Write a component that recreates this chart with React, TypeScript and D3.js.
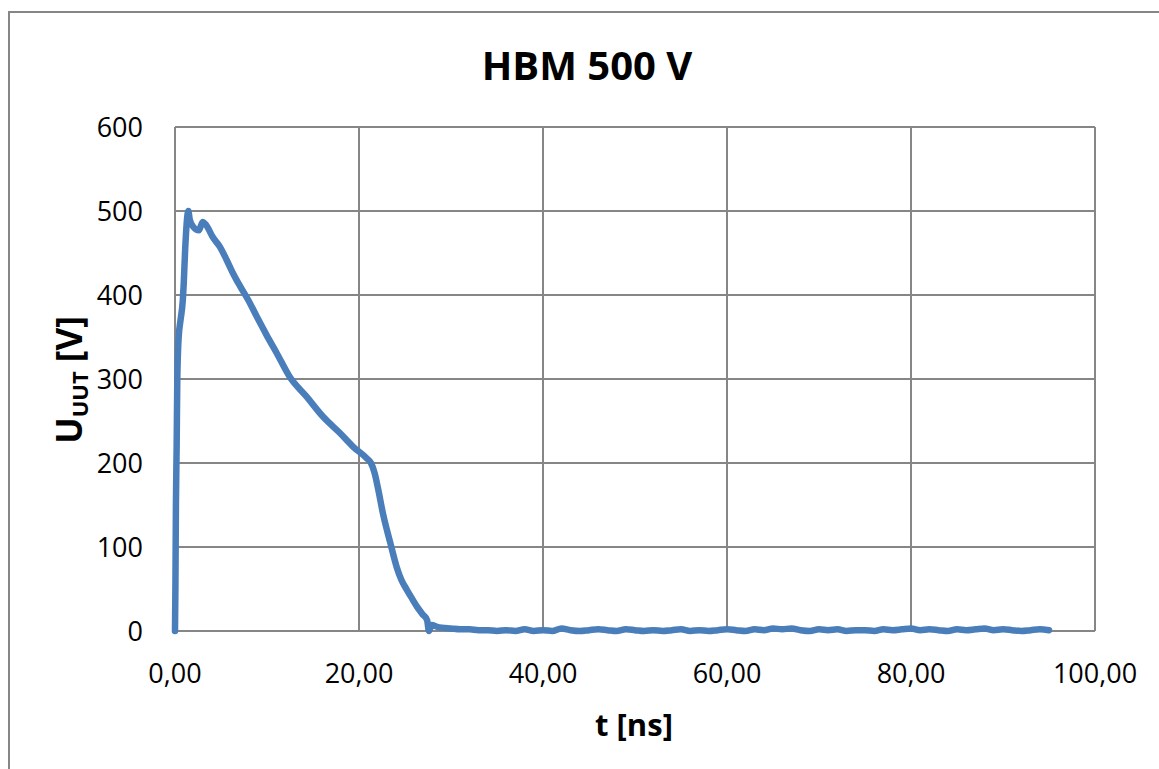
import React from "react";
import * as d3 from "d3";

const title = "HBM 500 V";
const xTicks = [0, 20, 40, 60, 80, 100];
const yTicks = [0, 100, 200, 300, 400, 500, 600];

// time in ns
const tValues = [
  0, 0.05, 0.1, 0.18, 0.25, 0.4, 0.6, 0.85, 0.95, 1.1, 1.45, 1.6, 2.0, 2.6, 3.0, 3.4, 4.1, 4.9, 5.6, 6.3,
  7.1, 7.96, 8.9, 9.97, 11.05, 12.5, 14.3, 16.1, 17.9, 19.4, 20.8, 21.3, 21.7, 22.1, 22.6, 23.4, 24.1, 24.6, 25.2,
  25.8, 26.3, 26.9, 27.4, 27.6, 27.9, 28.5,
  29, 30, 31, 32, 33, 34, 35, 36, 37, 38, 39, 40, 41, 42, 43, 44, 45, 46, 47, 48, 49, 50, 51, 52, 53, 54,
  55, 56, 57, 58, 59, 60, 61, 62, 63, 64, 65, 66, 67, 68, 69, 70, 71, 72, 73, 74, 75, 76, 77, 78, 79, 80,
  81, 82, 83, 84, 85, 86, 87, 88, 89, 90, 91, 92, 93, 94, 95,
];
// voltage in V
const uValues = [
  0, 60, 150, 220, 300, 350, 370, 394, 414, 453, 500, 490, 481, 477, 487, 483, 469, 457, 442, 426,
  410, 394, 374, 352, 331, 302, 279, 255, 236, 219, 206, 200, 188, 168, 140, 105, 76, 61, 49,
  38, 29, 20, 13, 0, 7, 5,
  4, 3, 2, 2, 1, 1, 0, 1, 0, 2, 0, 1, 0, 3, 1, 0, 1, 2, 1, 0, 2, 1, 0, 1, 0, 1,
  2, 0, 1, 0, 1, 2, 1, 0, 2, 1, 3, 2, 3, 1, 0, 2, 1, 2, 0, 1, 1, 0, 2, 1, 2, 3,
  1, 2, 1, 0, 2, 1, 2, 3, 1, 2, 1, 0, 1, 2, 1,
];

const W = 1159;
const H = 769;
const margin = { left: 175, right: 1095, top: 127, bottom: 631 };
const FONT = "'Open Sans', 'Liberation Sans', sans-serif";
const GRID = "#868686";
const LINE = "#4a7ebb";

export default function App() {
  const x = d3.scaleLinear().domain([0, 100]).range([margin.left, margin.right]);
  const y = d3.scaleLinear().domain([0, 600]).range([margin.bottom, margin.top]);
  const pts: [number, number][] = tValues.map((t, i) => [t, uValues[i]]);
  const line = d3
    .line<[number, number]>()
    .x((d) => x(d[0]))
    .y((d) => y(d[1]))
    .curve(d3.curveMonotoneX);
  const fmt = (v: number) => v.toFixed(2).replace(".", ",");

  return (
    <svg
      width={W}
      height={H}
      style={{ position: "absolute", left: 0, top: 0, background: "#fff" }}
      fontFamily={FONT}
    >
      <rect x={9} y={12} width={1170} height={780} fill="#fff" stroke={GRID} strokeWidth={2} />
      <text x={587} y={80} textAnchor="middle" fontSize={40} fontWeight="bold" fill="#000">
        {title}
      </text>
      {yTicks.map((v) => (
        <line key={"gy" + v} x1={margin.left} x2={margin.right} y1={y(v)} y2={y(v)} stroke={GRID} strokeWidth={2} />
      ))}
      {xTicks.map((v) => (
        <line key={"gx" + v} x1={x(v)} x2={x(v)} y1={margin.top} y2={margin.bottom} stroke={GRID} strokeWidth={2} />
      ))}
      {yTicks.map((v) => (
        <text key={"ly" + v} x={143} y={y(v) + 10} textAnchor="end" fontSize={27} fill="#000">
          {v}
        </text>
      ))}
      {xTicks.map((v) => (
        <text key={"lx" + v} x={x(v)} y={683} textAnchor="middle" fontSize={27} fill="#000">
          {fmt(v)}
        </text>
      ))}
      <text x={634} y={736} textAnchor="middle" fontSize={31} fontWeight="bold" fill="#000">
        t [ns]
      </text>
      <text
        transform={`translate(82, 380) rotate(-90)`}
        textAnchor="middle"
        fontSize={35}
        fontWeight="bold"
        fill="#000"
      >
        U<tspan fontSize={22} dy={6}>UUT</tspan>
        <tspan dy={-6}> [V]</tspan>
      </text>
      <path d={line(pts) || ""} fill="none" stroke={LINE} strokeWidth={6.5} strokeLinejoin="round" strokeLinecap="round" />
    </svg>
  );
}
